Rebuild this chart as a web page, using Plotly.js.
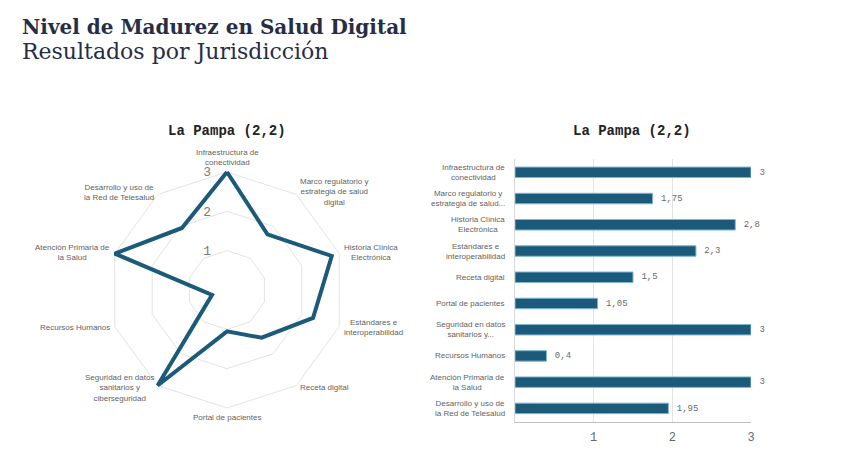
<!DOCTYPE html>
<html>
<head>
<meta charset="utf-8">
<script src="https://cdn.plot.ly/plotly-3.0.1.min.js"></script>
<style>
html,body{margin:0;padding:0;background:#fff;}
#chart{width:860px;height:452px;}
</style>
</head>
<body>
<div id="chart"></div>
<script>
// ---- data ----
const chartTitle = 'Nivel de Madurez en Salud Digital';
const chartSubtitle = 'Resultados por Jurisdicción';
const panelTitle = 'La Pampa (2,2)';

const radarLabels = [
  'Infraestructura de<br>conectividad',
  'Marco regulatorio y<br>estrategia de salud<br>digital',
  'Historia Clínica<br>Electrónica',
  'Estándares e<br>interoperabilidad',
  'Receta digital',
  'Portal de pacientes',
  'Seguridad en datos<br>sanitarios y<br>ciberseguridad',
  'Recursos Humanos',
  'Atención Primaria de<br>la Salud',
  'Desarrollo y uso de<br>la Red de Telesalud'
];
const barLabels = [
  'Infraestructura de<br>conectividad',
  'Marco regulatorio y<br>estrategia de salud...',
  'Historia Clínica<br>Electrónica',
  'Estándares e<br>interoperabilidad',
  'Receta digital',
  'Portal de pacientes',
  'Seguridad en datos<br>sanitarios y...',
  'Recursos Humanos',
  'Atención Primaria de<br>la Salud',
  'Desarrollo y uso de<br>la Red de Telesalud'
];
const scores = [3, 1.75, 2.8, 2.3, 1.5, 1.05, 3, 0.4, 3, 1.95];
const radialTicks = [1, 2, 3];

// ---- styles ----
const W = 860, H = 452;
const navy = '#1c5a7a';
const grey = '#5f5f5f';
const sansFont = 'Liberation Sans, Arial, sans-serif';
const monoFam = 'Liberation Mono, Courier New, monospace';
const labelFont = {family: sansFont, size: 8, color: grey};
const monoFont = {family: monoFam, size: 12, color: '#6a6a6a'};

const px = (a, b) => [a / W, b / W];
const py = (top, bottom) => [(H - bottom) / H, (H - top) / H];

// radar geometry: centre (227,290), value 3 at 118 px; axis extends to rMax
const rMax = 3.9;
const cx = 227, cy = 290, r3 = 118;
const half = r3 * rMax / 3;
const labelGap = 121; // px from centre where each category label box starts

const nCat = radarLabels.length;
const radarLabelAnnotations = radarLabels.map((lbl, i) => {
  const ang = (90 - 360 * i / nCat) * Math.PI / 180;
  const c = Math.cos(ang), s = Math.sin(ang);
  const ax = cx + labelGap * c, ay = cy - labelGap * s;
  let xanchor = 'center', yanchor = 'middle';
  if (Math.abs(c) < 0.01) { yanchor = s > 0 ? 'bottom' : 'top'; }
  else { xanchor = c > 0 ? 'left' : 'right'; }
  return {
    text: lbl, xref: 'paper', yref: 'paper', x: ax / W, y: (H - ay) / H,
    xanchor: xanchor, yanchor: yanchor, align: 'center', showarrow: false,
    font: labelFont
  };
});

const radarTrace = {
  type: 'scatterpolar',
  r: scores.concat([scores[0]]),
  theta: radarLabels.concat([radarLabels[0]]),
  mode: 'lines',
  line: {color: navy, width: 4},
  hoverinfo: 'skip',
  showlegend: false,
  subplot: 'polar'
};

const barTrace = {
  type: 'bar',
  orientation: 'h',
  x: scores,
  y: barLabels,
  xaxis: 'x',
  yaxis: 'y',
  width: 0.4,
  marker: {color: navy, line: {color: '#7fb6d3', width: 1}},
  text: scores.map(v => ' ' + String(v).replace('.', ',')),
  textposition: 'outside',
  textfont: monoFont,
  cliponaxis: false,
  hoverinfo: 'skip',
  showlegend: false
};

const barLabelAnnotations = barLabels.map(lbl => ({
  text: lbl, xref: 'paper', yref: 'y', x: 507 / W, y: lbl,
  xanchor: 'right', yanchor: 'middle', align: 'center', showarrow: false,
  font: labelFont
}));

const layout = {
  width: W, height: H,
  margin: {l: 0, r: 0, t: 0, b: 0},
  paper_bgcolor: '#fff',
  plot_bgcolor: '#fff',
  separators: ', ',
  showlegend: false,
  polar: {
    domain: {x: px(cx - half, cx + half), y: py(cy - half, cy + half)},
    gridshape: 'linear',
    bgcolor: 'rgba(0,0,0,0)',
    angularaxis: {
      direction: 'clockwise',
      rotation: 90,
      showline: false,
      showgrid: false,
      showticklabels: false,
      ticks: '',
      categoryorder: 'array',
      categoryarray: radarLabels
    },
    radialaxis: {
      range: [0, rMax],
      tickvals: radialTicks,
      angle: 90,
      tickangle: 90,
      side: 'counterclockwise',
      showline: false,
      ticks: 'outside',
      ticklen: 11,
      tickcolor: 'rgba(0,0,0,0)',
      gridcolor: '#e3e3e3',
      gridwidth: 1,
      tickfont: {family: monoFam, size: 13, color: '#7a7a7a'}
    }
  },
  xaxis: {
    domain: px(515, 751),
    anchor: 'y',
    range: [0, 3],
    tickvals: radialTicks,
    showgrid: true,
    gridcolor: '#e3e3e3',
    zeroline: false,
    showline: true,
    linecolor: '#bfbfbf',
    ticks: '',
    ticklabelstandoff: 4,
    tickfont: monoFont,
    fixedrange: true
  },
  yaxis: {
    domain: py(159.2, 421.5),
    anchor: 'x',
    autorange: 'reversed',
    showline: true,
    linecolor: '#d9d9d9',
    showgrid: false,
    showticklabels: false,
    ticks: '',
    fixedrange: true
  },
  annotations: [
    {text: '<b>' + chartTitle + '</b>', xref: 'paper', yref: 'paper', x: 20 / W, y: (H - 27) / H,
     xanchor: 'left', yanchor: 'middle', showarrow: false,
     font: {family: 'DejaVu Serif, serif', size: 20, color: '#262d45'}},
    {text: chartSubtitle, xref: 'paper', yref: 'paper', x: 20 / W, y: (H - 52) / H,
     xanchor: 'left', yanchor: 'middle', showarrow: false,
     font: {family: 'DejaVu Serif, serif', size: 22, color: '#262d45'}},
    {text: '<b>' + panelTitle + '</b>', xref: 'paper', yref: 'paper', x: 227 / W, y: (H - 131) / H,
     xanchor: 'center', yanchor: 'middle', showarrow: false,
     font: {family: monoFam, size: 14, color: '#222'}},
    {text: '<b>' + panelTitle + '</b>', xref: 'paper', yref: 'paper', x: 632 / W, y: (H - 131) / H,
     xanchor: 'center', yanchor: 'middle', showarrow: false,
     font: {family: monoFam, size: 14, color: '#222'}}
  ].concat(radarLabelAnnotations, barLabelAnnotations)
};

Plotly.newPlot('chart', [radarTrace, barTrace], layout, {displayModeBar: false, staticPlot: true});
</script>
</body>
</html>
